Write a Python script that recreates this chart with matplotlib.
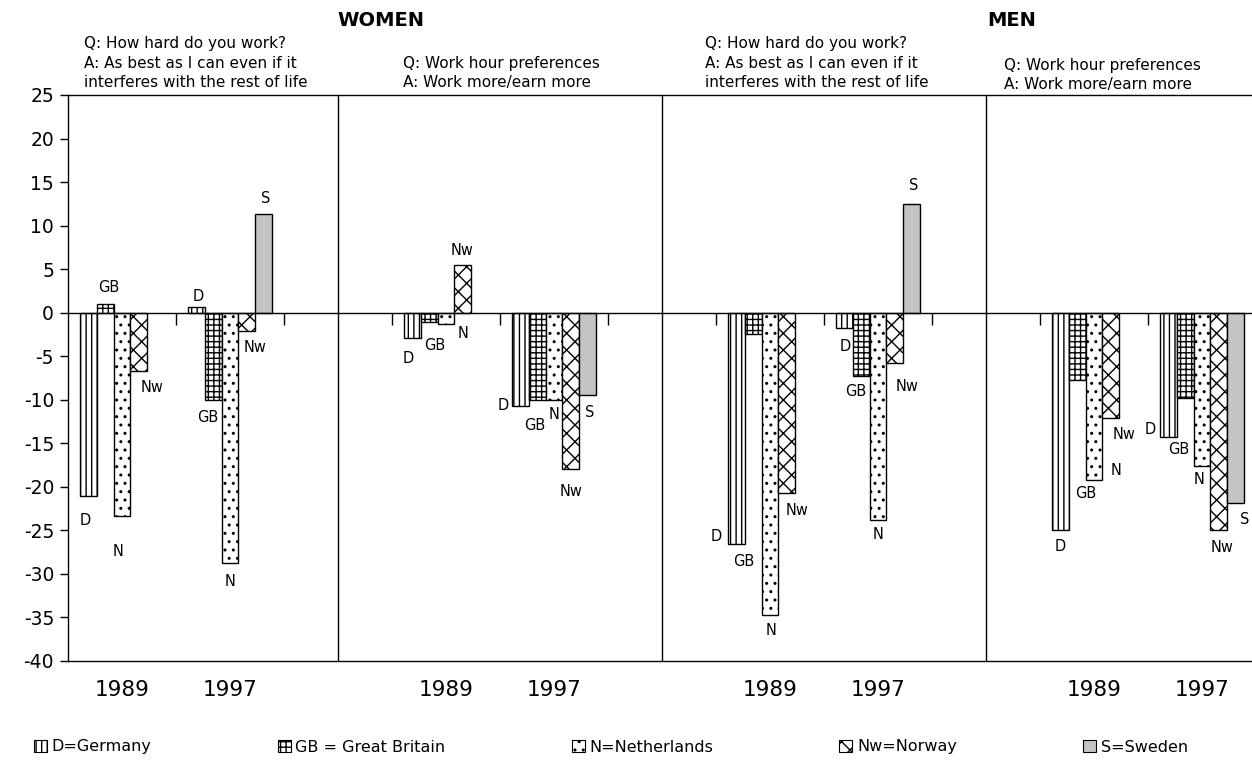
import numpy as np
import matplotlib
matplotlib.use('Agg')
import matplotlib.pyplot as plt
from matplotlib.patches import Patch

# x categories (blank slots hold the panel separators)
categories = ['1989', '1997', '', '1989', '1997', '', '1989', '1997', '', '1989', '1997']
year_slots = [0, 1, 3, 4, 6, 7, 9, 10]

# values per country, 4 panels x (1989, 1997)
germany = [-21.1, 0.6, -2.9, -10.7, -26.6, -1.8, -25.0, -14.3]
britain = [1.0, -10.0, -1.1, -10.0, -2.5, -7.3, -7.7, -9.8]
netherlands = [-23.4, -28.7, -1.3, -10.0, -34.7, -23.8, -19.2, -17.6]
norway = [-6.7, -2.1, 5.5, -18.0, -20.7, -5.8, -12.1, -25.0]
sweden = [np.nan, 11.3, np.nan, -9.4, np.nan, 12.5, np.nan, -21.8]

series_codes = ['D', 'GB', 'N', 'Nw', 'S']
legend_names = ['D=Germany', 'GB = Great Britain', 'N=Netherlands', 'Nw=Norway', 'S=Sweden']
y_ticks = list(range(-40, 30, 5))

# label nudges in pixels (dx, dy down) from the bar end
label_nudge = {
    'D': [(-3, 24), (2, -11), (-4, 21), (-17, 0), (-20, -8), (1, 18), (0, 16), (-18, -8)],
    'GB': [(4, -16), (-5, 18), (6, 23), (-2, 26), (-9, 227), (-5, 15), (9, 114), (-6, 51)],
    'N': [(-4, 35), (0, 19), (17, 9), (0, 15), (1, 16), (0, 15), (22, -9), (-3, 14)],
    'Nw': [(13, 16), (8, 17), (-1, -14), (0, 22), (10, 18), (12, 23), (13, 16), (3, 17)],
    'S': [None, (2, -16), None, (2, 18), None, (2, -18), None, (9, 17)],
}

styles = {
    'D': dict(facecolor='white', hatch='|||'),
    'GB': dict(facecolor='white', hatch='+++'),
    'N': dict(facecolor='white', hatch='..'),
    'Nw': dict(facecolor='white', hatch='xx'),
    'S': dict(facecolor='#c4c4c4', hatch=''),
}

plt.rcParams['font.family'] = ['DejaVu Sans']
plt.rcParams['axes.unicode_minus'] = False
plt.rcParams['hatch.linewidth'] = 1.0

W, H = 1252, 777
fig = plt.figure(figsize=(W / 100, H / 100), dpi=100)
ax = fig.add_axes([68 / W, (H - 661) / H, (1256 - 68) / W, (661 - 95) / H])

all_values = [germany, britain, netherlands, norway, sweden]
bar_w = 0.156
x_year = np.array(year_slots, dtype=float)
for i, (code, vals) in enumerate(zip(series_codes, all_values)):
    xs = x_year + (i - 2) * bar_w
    ax.bar(xs, vals, width=bar_w, edgecolor='black', linewidth=1.0, zorder=3, **styles[code])
    for j, v in enumerate(vals):
        if np.isnan(v) or label_nudge[code][j] is None:
            continue
        dx, dy = label_nudge[code][j]
        ax.annotate(code, (xs[j], v), xytext=(dx, -dy), textcoords='offset pixels',
                    ha='center', va='center', fontsize=10.5, zorder=2)

ax.axhline(0, color='black', linewidth=1.0, zorder=4)
# category tick marks hanging from the zero line
ax.vlines(np.arange(0.5, 10.5, 1.0), -1.45, 0, color='black', linewidth=1.0, zorder=4)
# panel separators
for sx in [2, 5, 8]:
    ax.axvline(sx, color='black', linewidth=1.0, zorder=4)

ax.set_xlim(-0.5, 10.5)
ax.set_ylim(-40, 25)
ax.set_yticks(y_ticks)
ax.set_yticklabels([str(t) for t in y_ticks], fontsize=13.5)
ax.tick_params(axis='y', direction='out', length=6, width=1, pad=4)
ax.set_xticks(range(len(categories)))
ax.set_xticklabels(categories, fontsize=15.5)
ax.tick_params(axis='x', length=0, pad=14)
for s in ax.spines.values():
    s.set_linewidth(1.0)

def ftext(px, py, s, **kw):
    fig.text(px / W, 1 - py / H, s, **kw)

ftext(337, 20, 'WOMEN', fontsize=14, fontweight='heavy', va='center')
ftext(987, 20, 'MEN', fontsize=14, fontweight='heavy', va='center')

q1 = 'Q: How hard do you work?\nA: As best as I can even if it\ninterferes with the rest of life'
q2 = 'Q: Work hour preferences\nA: Work more/earn more'
ftext(84, 90, q1, fontsize=11, va='bottom', linespacing=1.37)
ftext(403, 90, q2, fontsize=11, va='bottom', linespacing=1.37)
ftext(705, 90, q1, fontsize=11, va='bottom', linespacing=1.37)
ftext(1004, 92, q2, fontsize=11, va='bottom', linespacing=1.37)

handles = [Patch(edgecolor='black', linewidth=0.8, **styles[c]) for c in series_codes]
fig.legend(handles, legend_names, loc='center', bbox_to_anchor=(611 / W, 1 - 747 / H),
           ncol=5, frameon=False, fontsize=11.5, handlelength=0.8, handleheight=0.8,
           handletextpad=0.3, columnspacing=7.9)

fig.savefig('out.png', dpi=100)
